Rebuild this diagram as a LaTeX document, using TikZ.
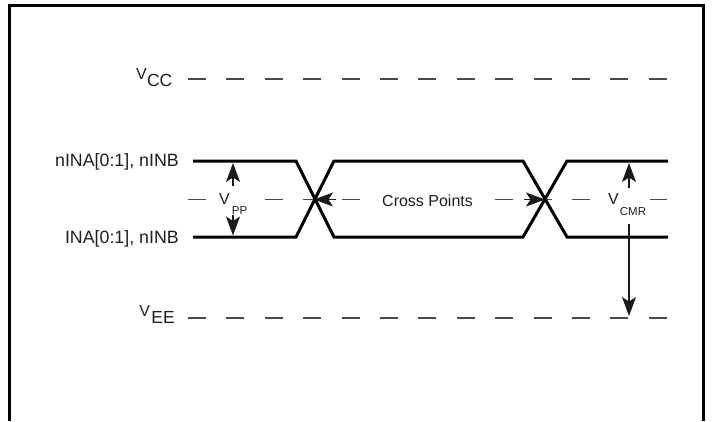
\documentclass[tikz,border=0pt]{standalone}
\usepackage{fontspec}
\setmainfont{Liberation Sans}
\usetikzlibrary{arrows.meta}
\definecolor{dashgray}{HTML}{4A4A4A}
\definecolor{labgray}{HTML}{1E1E1E}
\definecolor{arrgray}{HTML}{1A1A1A}
\newcommand{\fsz}[1]{\fontsize{#1}{#1}\selectfont}
\tikzset{
  sig/.style={line width=3pt, black, line join=miter},
  lvl/.style={line width=1.4pt, draw=dashgray, dash pattern=on 18pt off 20.4pt},
  lab/.style={font=\fsz{17.8}, text=labgray, inner sep=0pt},
  vlab/.style={text=labgray, inner sep=0pt},
  tipline/.style={-{Stealth[length=19pt,width=14pt,inset=4.5pt]}, line width=1.2pt, draw=arrgray, fill=arrgray},
  frame/.style={line width=3pt, black}
}
\begin{document}
\begin{tikzpicture}[x=1pt,y=-1pt]
\useasboundingbox (0,0) rectangle (712,421);
% frame
\coordinate (fbl) at (9,421);
\coordinate (ftl) at (9,5);
\coordinate (ftr) at (703,5);
\coordinate (fbr) at (703,421);
\draw[frame] (fbl) -- (ftl) -- (ftr) -- (fbr);

% level lines
\coordinate (vccL) at (188,79);   \coordinate (vccR) at (668,79);
\coordinate (midL) at (188,199.5); \coordinate (midR) at (668,199.5);
\coordinate (veeL) at (188,318);  \coordinate (veeR) at (668,318);
\draw[lvl] (vccL) -- (vccR);
\draw[lvl] (midL) -- (midR);
\draw[lvl] (veeL) -- (veeR);

% level labels
\node[vlab, anchor=base east] (vcc) at (172.5,86.5) {\fsz{16}\raisebox{7.5pt}{V}\kern0.3pt\fsz{17.5}CC};
\node[vlab, anchor=base east] (vee) at (175,323.5) {\fsz{16}\raisebox{7pt}{V}\kern1.5pt\fsz{17.5}EE};

% signal labels
\node[lab, anchor=base east] (nina) at (179,166) {nINA[0:1], nINB};
\node[lab, anchor=base east] (ina) at (179,243) {INA[0:1], nINB};

% signal waveforms
\coordinate (h0) at (193,161);  \coordinate (l0) at (193,237);
\coordinate (h1) at (296,161);  \coordinate (l1) at (296,237);
\coordinate (h2) at (334,161);  \coordinate (l2) at (334,237);
\coordinate (h3) at (523,161);  \coordinate (l3) at (523,237);
\coordinate (h4) at (567,161);  \coordinate (l4) at (567,237);
\coordinate (h5) at (668,161);  \coordinate (l5) at (668,237);
\draw[sig] (h0) -- (h1) -- (l2) -- (l3) -- (h4) -- (h5);
\draw[sig] (l0) -- (l1) -- (h2) -- (h3) -- (l4) -- (l5);

% labels on the middle line
\node[vlab, anchor=base west, fill=white] (vpp) at (219,204)
  {\fsz{16}V\kern2pt\raisebox{-10pt}{\fsz{11.5}PP}};
\node[vlab, anchor=base west, fill=white, inner xsep=4pt] (vcmr) at (604,204)
  {\fsz{16}V\kern1pt\raisebox{-11pt}{\fsz{11.5}CMR}};
\node[anchor=base west, fill=white, inner xsep=5pt, inner ysep=2pt, font=\fsz{16}, text=labgray] (cp) at (377,206.5) {Cross Points};

% cross points
\coordinate (x1) at (314,199.5);
\coordinate (x2) at (545,199.5);
\coordinate (x1a) at (336,199.5);
\coordinate (x2a) at (524,199.5);
\draw[tipline] (x1a) -- (x1);
\draw[tipline] (x2a) -- (x2);

% V_PP arrows
\coordinate (ppU) at (233,186);  \coordinate (ppUt) at (233,163);
\coordinate (ppD) at (233,215);  \coordinate (ppDt) at (233,235.5);
\draw[tipline] (ppU) -- (ppUt);
\draw[tipline] (ppD) -- (ppDt);

% V_CMR arrows
\coordinate (cmU) at (629,188);  \coordinate (cmUt) at (629,163);
\coordinate (cmD) at (629,224);  \coordinate (cmDt) at (629,316);
\draw[tipline] (cmU) -- (cmUt);
\draw[tipline] (cmD) -- (cmDt);
\end{tikzpicture}
\end{document}
